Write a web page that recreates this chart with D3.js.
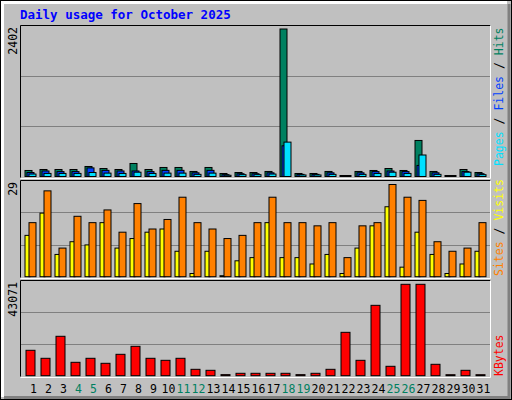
<!DOCTYPE html>
<html><head><meta charset="utf-8">
<script src="https://cdn.jsdelivr.net/npm/d3@7"></script>
<style>body{margin:0;background:#fff}</style></head>
<body><svg id="c" width="512" height="400"></svg>
<script>
const days = d3.range(1,32);
const weekend = [4,5,11,12,18,19,25,26];
const hits  = [98,114,114,114,163,130,114,212,114,147,147,82,147,49,65,65,82,2402,49,49,82,16,82,98,130,98,587,82,16,114,65];
const files = [65,90,80,80,140,100,90,90,80,100,100,60,100,30,45,45,60,500,35,35,60,10,60,80,90,80,180,60,10,80,45];
const pages = [40,50,50,50,65,55,50,70,50,55,55,35,55,20,30,30,40,560,25,25,35,8,35,50,70,50,350,35,8,70,30];
const visits = [17,27,9,19,17,21,14,23,15,18,25,17,15,12,13,17,25,17,17,16,17,6,16,17,29,25,24,11,8,9,17];
const sites  = [13,20,7,11,10,17,9,12,14,15,8,1,8,0,5,6,17,6,6,4,7,1,9,16,22,3,14,7,1,4,8];
const kbytes = [11970,8200,18570,6310,8200,5840,10080,13850,8200,7250,8200,3010,2540,500,1130,1130,1130,1130,500,1130,3010,20440,7250,33160,4430,43071,43071,5370,400,2540,400];

const svg = d3.select("#c");
const F = "'DejaVu Sans Mono', monospace";
// frame
svg.append("rect").attr("x",0.5).attr("y",0.5).attr("width",511).attr("height",399).attr("fill","#c0c0c0").attr("stroke","#000");
svg.append("path").attr("d","M2.5,397 V2.5 H507").attr("stroke","#fff").attr("stroke-width",3).attr("fill","none");
svg.append("path").attr("d","M509,4 V397.5 H4").attr("stroke","#808080").attr("stroke-width",3).attr("fill","none");
svg.append("text").attr("x",20).attr("y",19).attr("font-family",F).attr("font-weight","bold").attr("font-size",12.5).attr("fill","#0000ff").text("Daily usage for October 2025");

const x = d3.scaleBand().domain(days).range([21.5,486.5]).paddingInner(0);
const panels = [[25,177],[180,277],[280,376]];
panels.forEach(([t,b])=>{
  svg.append("rect").attr("x",20.5).attr("y",t+0.5).attr("width",470).attr("height",b-t).attr("fill","#c0c0c0");
  for(let i=1;i<3;i++){const gy=Math.round(t+(b-t)*i/3)+0.5;
    svg.append("line").attr("x1",21).attr("x2",490).attr("y1",gy).attr("y2",gy).attr("stroke","#808080");}
  svg.append("path").attr("d",`M20.5,${b+0.5} V${t+0.5} H490.5`).attr("stroke","#000").attr("fill","none");
  svg.append("path").attr("d",`M490.5,${t+0.5} V${b+1.5} H20.5`).attr("stroke","#fff").attr("fill","none");
});

const yH = d3.scaleLinear().domain([0,2402]).range([176.5,29]);
const yV = d3.scaleLinear().domain([0,29]).range([276.7,184.5]);
const yK = d3.scaleLinear().domain([0,43071]).range([375.7,284.3]);

function bars(data, y, off, w, color){
  svg.append("g").selectAll("rect").data(days).join("rect")
    .attr("x",d=>x(d)+3.5+off).attr("y",(d,i)=>Math.min(y(data[i]),y(0)-1))
    .attr("width",w).attr("height",(d,i)=>Math.max(1,y(0)-y(data[i])))
    .attr("fill",color).attr("stroke","#000").attr("stroke-width",1);
}
bars(hits,yH,0,7,"#008060");
bars(files,yH,2,7,"#0040ff");
bars(pages,yH,4,7,"#00e0ff");
bars(sites,yV,0,5,"#ffff00");
bars(visits,yV,4,7,"#ff8000");
bars(kbytes,yK,1,9,"#ff0000");

svg.append("g").selectAll("text").data(days).join("text")
  .attr("x",d=>x(d)+12).attr("y",393).attr("text-anchor","middle")
  .attr("font-family",F).attr("font-size",11.5)
  .attr("fill",d=>weekend.includes(d)?"#008060":"#000").text(d=>d);

[["2402",27],["29",182],["43071",282]].forEach(([s,y])=>{
  svg.append("text").attr("transform",`translate(17,${y}) rotate(-90)`).attr("text-anchor","end")
    .attr("font-family",F).attr("font-size",11.5).text(s);
});
function side(parts, y){
  const t = svg.append("text").attr("transform",`translate(503,${y}) rotate(-90)`).attr("font-family",F).attr("font-size",11.5);
  parts.forEach(([s,c])=>t.append("tspan").attr("fill",c).text(s));
}
side([["Pages","#00e0ff"],[" / ","#000"],["Files","#0040ff"],[" / ","#000"],["Hits","#008060"]],166);
side([["Sites","#ff8000"],[" / ","#000"],["Visits","#ffff00"]],276);
side([["KBytes","#ff0000"]],376);
</script></body></html>
